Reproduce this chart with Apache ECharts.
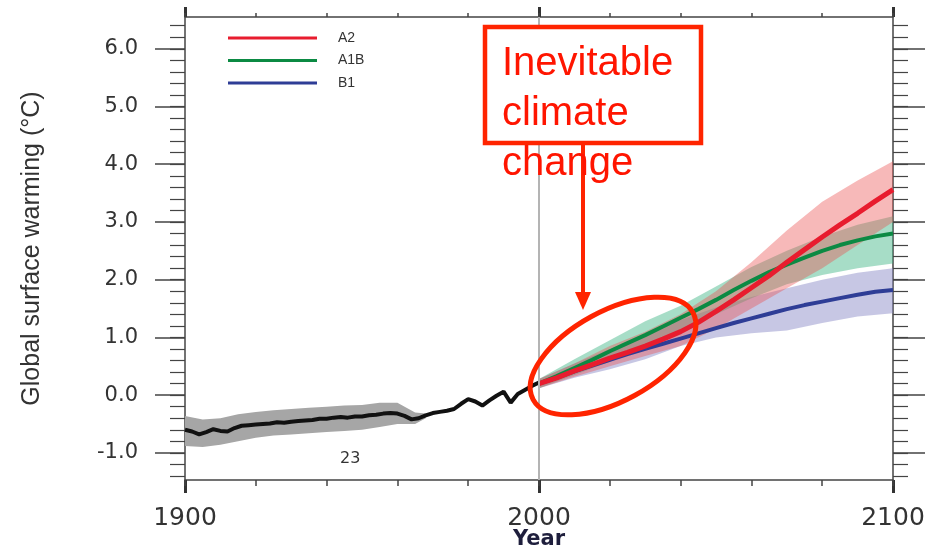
<!DOCTYPE html>
<html><head><meta charset="utf-8">
<script src="https://cdn.jsdelivr.net/npm/echarts@6/dist/echarts.min.js"></script>
<style>html,body{margin:0;padding:0;background:#fff}#c{width:946px;height:552px}</style>
</head><body><div id="c"></div>
<script>
// ---- Data ----
const histYears = [1900,1902,1904,1906,1908,1910,1912,1914,1916,1918,1920,1922,1924,1926,1928,1930,1932,1934,1936,1938,1940,1942,1944,1946,1948,1950,1952,1954,1956,1958,1960,1962,1964,1966,1968,1970,1972,1974,1976,1978,1980,1982,1984,1986,1988,1990,1992,1994,1996,1998,2000];
const histValues = [-0.60,-0.63,-0.68,-0.64,-0.59,-0.62,-0.63,-0.57,-0.53,-0.52,-0.51,-0.50,-0.49,-0.47,-0.48,-0.46,-0.45,-0.44,-0.43,-0.41,-0.41,-0.39,-0.38,-0.39,-0.37,-0.37,-0.35,-0.34,-0.32,-0.31,-0.32,-0.36,-0.42,-0.40,-0.35,-0.31,-0.29,-0.27,-0.24,-0.15,-0.07,-0.11,-0.18,-0.09,-0.01,0.06,-0.13,0.02,0.09,0.16,0.22];
const histBandYears = [1900,1905,1910,1915,1920,1925,1930,1935,1940,1945,1950,1955,1960,1965,1968];
const histBandLo = [-0.88,-0.90,-0.86,-0.80,-0.74,-0.70,-0.68,-0.66,-0.64,-0.62,-0.60,-0.55,-0.50,-0.50,-0.40];
const histBandHi = [-0.36,-0.42,-0.40,-0.33,-0.29,-0.26,-0.24,-0.22,-0.20,-0.18,-0.17,-0.13,-0.13,-0.30,-0.32];

const projYears = [2000,2005,2010,2015,2020,2025,2030,2035,2040,2045,2050,2055,2060,2065,2070,2075,2080,2085,2090,2095,2100];
const a2Values  = [0.20,0.30,0.42,0.53,0.64,0.74,0.85,0.97,1.10,1.26,1.45,1.65,1.86,2.07,2.30,2.52,2.74,2.95,3.15,3.36,3.56];
const a1bValues = [0.20,0.33,0.47,0.61,0.76,0.90,1.04,1.19,1.34,1.49,1.65,1.82,1.98,2.13,2.26,2.38,2.50,2.60,2.68,2.75,2.80];
const b1Values  = [0.20,0.30,0.41,0.51,0.61,0.71,0.80,0.89,0.98,1.07,1.16,1.25,1.33,1.41,1.49,1.56,1.62,1.68,1.74,1.79,1.82];

const bandYears = [2000,2010,2020,2030,2040,2050,2060,2070,2080,2090,2100];
const a2Lo  = [0.12,0.32,0.50,0.68,0.85,1.15,1.50,1.85,2.20,2.60,3.00];
const a2Hi  = [0.28,0.55,0.85,1.10,1.40,1.80,2.30,2.85,3.35,3.72,4.05];
const a1bLo = [0.12,0.35,0.58,0.82,1.10,1.40,1.68,1.92,2.08,2.20,2.28];
const a1bHi = [0.28,0.62,0.95,1.28,1.55,1.88,2.22,2.50,2.75,2.95,3.10];
const b1Lo  = [0.12,0.30,0.45,0.62,0.85,1.00,1.07,1.12,1.25,1.36,1.42];
const b1Hi  = [0.28,0.55,0.80,1.05,1.30,1.52,1.70,1.85,2.00,2.12,2.20];

const seriesNames = ['A2','A1B','B1'];
const xLabelTicks = [1900,2000,2100];
const yLabelTicks = [-1,0,1,2,3,4,5,6];
const yMinorTicks = [];
for (let v = -14; v <= 64; v += 2) yMinorTicks.push(v / 10);

// ---- Chart ----
const chart = echarts.init(document.getElementById('c'));
const axisCol = '#444';
const labelCol = '#333';

function bandSeries(name, years, lo, hi, color) {
  return {
    type: 'custom', name: name, silent: true, xAxisIndex: 0, yAxisIndex: 0,
    data: years.map((y, i) => [y, lo[i], hi[i]]),
    encode: { x: 0, y: [1, 2] },
    renderItem: function (params, api) {
      if (params.dataIndex !== 0) return null;
      const top = years.map((y, i) => api.coord([y, hi[i]]));
      const bot = years.map((y, i) => api.coord([y, lo[i]])).reverse();
      return { type: 'polygon', shape: { points: top.concat(bot) }, style: { fill: color } };
    }
  };
}
function lineSeries(name, years, vals, color, width) {
  return {
    type: 'line', name: name, xAxisIndex: 0, yAxisIndex: 0,
    data: years.map((y, i) => [y, vals[i]]),
    symbol: 'none', showSymbol: false, silent: true,
    lineStyle: { color: color, width: width },
    itemStyle: { color: color }, z: 3
  };
}

const xMin = 1900, xMax = 2100, yMin = -1.47, yMax = 6.55;

const option = {
  animation: false,
  backgroundColor: '#ffffff',
  grid: { left: 185, right: 53, top: 17, bottom: 72, containLabel: false, outerBoundsMode: 'none' },
  legend: {
    data: seriesNames, orient: 'vertical', left: 223, top: 26,
    icon: 'rect', itemWidth: 89, itemHeight: 3, itemGap: 8.5,
    textStyle: { fontSize: 14, color: labelCol, fontFamily: 'Liberation Sans', padding: [0, 0, 0, 16] },
    selectedMode: false
  },
  xAxis: [
    { type: 'value', min: xMin, max: xMax, position: 'bottom',
      axisLine: { onZero: false, lineStyle: { color: axisCol, width: 1.5 } },
      axisTick: { customValues: xLabelTicks, length: 13, lineStyle: { color: '#333', width: 3 } },
      axisLabel: { customValues: xLabelTicks, formatter: v => String(v), fontSize: 25, margin: 26, color: labelCol, fontFamily: 'DejaVu Sans' },
      splitLine: { show: false },
      name: 'Year', nameLocation: 'middle', nameGap: 49, nameMoveOverlap: false,
      nameTextStyle: { fontSize: 21, fontWeight: 'bold', color: '#1e1e3c', fontFamily: 'DejaVu Sans' } },
    { type: 'value', min: xMin, max: xMax, interval: 20, position: 'bottom',
      axisLine: { show: false, onZero: false }, axisLabel: { show: false }, splitLine: { show: false },
      axisTick: { length: 6, lineStyle: { color: axisCol, width: 1.5 } } },
    { type: 'value', min: xMin, max: xMax, position: 'top',
      axisLine: { onZero: false, lineStyle: { color: axisCol, width: 1.5 } }, axisLabel: { show: false }, splitLine: { show: false },
      axisTick: { customValues: xLabelTicks, length: 10, lineStyle: { color: '#333', width: 3 } } },
    { type: 'value', min: xMin, max: xMax, interval: 20, position: 'top',
      axisLine: { show: false, onZero: false }, axisLabel: { show: false }, splitLine: { show: false },
      axisTick: { length: 4, lineStyle: { color: axisCol, width: 1.5 } } }
  ],
  yAxis: [
    { type: 'value', min: yMin, max: yMax, position: 'left',
      axisLine: { show: true, onZero: false, lineStyle: { color: axisCol, width: 1.5 } },
      axisTick: { show: true, customValues: yLabelTicks, length: 30, lineStyle: { color: axisCol, width: 1.5 } },
      axisLabel: { customValues: yLabelTicks, formatter: v => v.toFixed(1), fontSize: 21, margin: 47, color: labelCol, fontFamily: 'DejaVu Sans' },
      splitLine: { show: false },
      name: 'Global surface warming (°C)', nameLocation: 'middle', nameRotate: 90, nameGap: 140,
      nameTextStyle: { fontSize: 25, color: labelCol, fontFamily: 'Liberation Sans' } },
    { type: 'value', min: yMin, max: yMax, position: 'left',
      axisLine: { show: false, onZero: false }, axisLabel: { show: false }, splitLine: { show: false },
      axisTick: { show: true, customValues: yMinorTicks, length: 15, lineStyle: { color: axisCol, width: 1.2 } } },
    { type: 'value', min: yMin, max: yMax, position: 'right',
      axisLine: { show: true, onZero: false, lineStyle: { color: axisCol, width: 1.5 } }, axisLabel: { show: false }, splitLine: { show: false },
      axisTick: { show: true, customValues: yLabelTicks, length: 32, lineStyle: { color: axisCol, width: 1.5 } } },
    { type: 'value', min: yMin, max: yMax, position: 'right',
      axisLine: { show: false, onZero: false }, axisLabel: { show: false }, splitLine: { show: false },
      axisTick: { show: true, customValues: yMinorTicks, length: 15, lineStyle: { color: axisCol, width: 1.2 } } }
  ],
  series: [
    bandSeries('histBand', histBandYears, histBandLo, histBandHi, '#a6a6a6'),
    bandSeries('B1 band', bandYears, b1Lo, b1Hi, 'rgba(130,130,195,0.45)'),
    bandSeries('A1B band', bandYears, a1bLo, a1bHi, 'rgba(60,180,130,0.45)'),
    bandSeries('A2 band', bandYears, a2Lo, a2Hi, 'rgba(235,80,80,0.40)'),
    Object.assign(lineSeries('Observed', histYears, histValues, '#111111', 4), {
      markLine: { silent: true, symbol: 'none', label: { show: false },
        lineStyle: { color: '#b4b4b4', width: 2, type: 'solid' },
        data: [{ xAxis: 2000 }] }
    }),
    lineSeries('B1', projYears, b1Values, '#2e3d96', 4),
    lineSeries('A1B', projYears, a1bValues, '#0b8a43', 4),
    lineSeries('A2', projYears, a2Values, '#e81c2e', 5)
  ],
  graphic: [
    { type: 'text', z: 50, left: 340, top: 451, style: { text: '23', fontSize: 16, fill: '#333', fontFamily: 'DejaVu Sans' } },
    { type: 'rect', z: 100, shape: { x: 485, y: 27, width: 216, height: 116 },
      style: { fill: '#ffffff', stroke: '#ff2400', lineWidth: 4.5 } },
    { type: 'text', z: 101, x: 502, y: 39,
      style: { text: 'Inevitable\nclimate\nchange', fontSize: 40, lineHeight: 50, fill: '#ff1500', fontFamily: 'Liberation Sans', verticalAlign: 'top' } },
    { type: 'line', z: 100, shape: { x1: 583, y1: 145, x2: 583, y2: 297 }, style: { stroke: '#ff2400', lineWidth: 4 } },
    { type: 'polygon', z: 100, shape: { points: [[575, 292], [591, 292], [583, 310]] }, style: { fill: '#ff2400' } },
    { type: 'ellipse', z: 100, x: 613, y: 356, rotation: 0.5, shape: { cx: 0, cy: 0, rx: 91, ry: 45 },
      style: { fill: 'none', stroke: '#ff2400', lineWidth: 5 } }
  ]
};
chart.setOption(option);
</script>
</body></html>
